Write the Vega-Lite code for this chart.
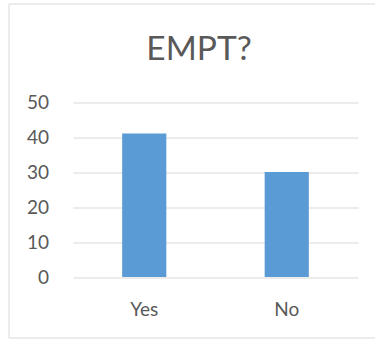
{
  "$schema": "https://vega.github.io/schema/vega-lite/v6.json",
  "width": 366.5,
  "height": 334,
  "autosize": {"type": "none"},
  "padding": {"left": 8.5, "top": 3.5, "right": 0, "bottom": 1.5},
  "background": "white",
  "title": {
    "text": "EMPT?",
    "anchor": "middle",
    "frame": "group",
    "dx": 7.25,
    "dy": 33,
    "offset": -56.5,
    "baseline": "alphabetic",
    "font": "Lato",
    "fontSize": 33.5,
    "fontWeight": "normal",
    "color": "#595959"
  },
  "data": {
    "values": [
      {"answer": "Yes", "count": 41},
      {"answer": "No", "count": 30}
    ]
  },
  "mark": {"type": "bar", "color": "#5B9BD5"},
  "encoding": {
    "x": {
      "field": "answer",
      "type": "nominal",
      "sort": ["Yes", "No"],
      "scale": {"range": [64.5, 349.5], "paddingInner": 0.69, "paddingOuter": 0.345},
      "axis": {
        "title": null,
        "domain": false,
        "ticks": false,
        "tickSize": 0,
        "grid": false,
        "labelAngle": 0,
        "labelPadding": -22.5,
        "labelBaseline": "alphabetic",
        "labelFont": "Lato",
        "labelFontSize": 19,
        "labelColor": "#595959"
      }
    },
    "y": {
      "field": "count",
      "type": "quantitative",
      "scale": {"domain": [0, 50], "range": [273.5, 98.5], "nice": false},
      "axis": {
        "title": null,
        "values": [0, 10, 20, 30, 40, 50],
        "domain": false,
        "ticks": false,
        "tickSize": 0,
        "grid": true,
        "gridColor": "#D9D9D9",
        "gridWidth": 1,
        "labelPadding": -40,
        "labelFont": "Lato",
        "labelFontSize": 19,
        "labelColor": "#595959"
      }
    }
  },
  "config": {"view": {"stroke": "#D9D9D9", "strokeWidth": 1}}
}
